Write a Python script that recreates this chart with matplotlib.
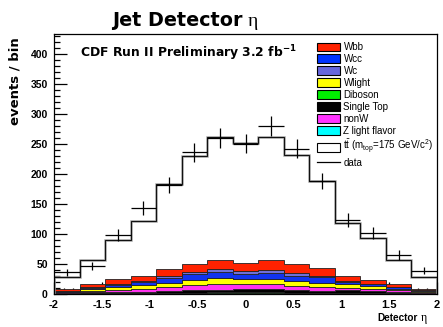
import numpy as np
import matplotlib
matplotlib.use("Agg")
import matplotlib.pyplot as plt
from matplotlib.patches import Patch
from matplotlib.lines import Line2D
from matplotlib.ticker import MultipleLocator

plt.rcParams['font.family'] = ['Liberation Sans', 'DejaVu Sans']
plt.rcParams['mathtext.fontset'] = 'custom'
plt.rcParams['mathtext.rm'] = 'Liberation Sans'
plt.rcParams['mathtext.bf'] = 'DejaVu Sans:bold'

# 15 bins in detector eta from -2 to 2
edges = np.linspace(-2, 2, 16)

# background components, events per bin (stacked bottom -> top)
zlf     = [0.2, 0.4, 0.5, 0.5, 0.7, 0.9, 1.0, 2.0, 1.0, 0.9, 0.7, 0.6, 0.5, 0.4, 0.2]
diboson = [0.3, 0.5, 0.7, 0.8, 1.0, 1.3, 2.0, 1.2, 2.0, 1.3, 1.0, 0.9, 0.7, 0.5, 0.3]
stop    = [1.0, 1.9, 2.1, 2.0, 2.7, 3.8, 4.2, 4.6, 4.8, 3.9, 3.3, 4.6, 3.2, 2.1, 1.0]
nonw    = [1.0, 2.7, 3.9, 5.0, 7.3, 8.4, 10.0, 8.3, 9.4, 6.7, 6.7, 4.5, 4.5, 3.0, 1.5]
wlight  = [1.5, 2.3, 4.5, 6.1, 7.3, 8.4, 9.5, 9.5, 8.4, 8.2, 7.2, 5.4, 3.9, 2.9, 2.0]
wcc     = [0.6, 2.4, 3.8, 5.6, 8.0, 10.0, 10.0, 8.3, 9.4, 9.0, 8.9, 3.6, 3.4, 2.1, 0.6]
wc      = [0.4, 0.8, 1.7, 1.7, 3.0, 3.9, 4.3, 4.4, 4.4, 4.4, 2.2, 1.5, 1.0, 0.7, 0.4]
wbb     = [3.0, 5.0, 7.2, 7.7, 12.0, 12.7, 15.0, 13.9, 16.6, 15.0, 13.3, 8.9, 6.7, 4.4, 2.9]
ttbar   = [21, 40, 65.5, 92.5, 142, 180.5, 205, 200, 205, 181.5, 144.5, 89, 69, 40, 20]

data = [36, 47, 98, 143, 182, 236, 260, 250, 280, 242, 188, 123, 101, 65, 39]

# stacking order and colours
stack = [
    (zlf, '#00e0e0'),
    (diboson, '#00cc00'),
    (stop, '#000000'),
    (nonw, '#ff33ee'),
    (wlight, '#ffff00'),
    (wcc, '#1133ee'),
    (wc, '#6f6fd9'),
    (wbb, '#ff2200'),
]

fig = plt.figure(figsize=(4.43, 3.27), dpi=100)
ax = fig.add_axes([54 / 443, 1 - 294 / 327, 383 / 443, 260 / 327])

# white ttbar on top of everything, drawn first so the stack covers its bottom
bottom = np.zeros(15)
for vals, _ in stack:
    bottom = bottom + np.array(vals)
total = bottom + np.array(ttbar)
ax.stairs(total, edges, baseline=0, fill=True, facecolor='white', edgecolor='none', zorder=1)

base = np.zeros(15)
for vals, col in stack:
    top = base + np.array(vals)
    ax.stairs(top, edges, baseline=base, fill=True, facecolor=col,
              edgecolor='#222222', linewidth=0.6, zorder=2)
    base = top

# total MC outline
ax.stairs(total, edges, color='#a8a8a8', linewidth=1.8, zorder=3)
ax.stairs(total, edges, color='#111111', linewidth=0.8, zorder=4)

# data with full-bin horizontal bars
centers = 0.5 * (edges[1:] + edges[:-1])
half = 0.5 * (edges[1] - edges[0])
ax.errorbar(centers, data, xerr=half, yerr=np.sqrt(data), fmt='none',
            ecolor='black', elinewidth=0.9, capsize=0, zorder=5)

ax.set_xlim(-2, 2)
ax.set_ylim(0, 433)
ax.xaxis.set_major_locator(MultipleLocator(0.5))
ax.xaxis.set_minor_locator(MultipleLocator(0.1))
ax.yaxis.set_major_locator(MultipleLocator(50))
ax.yaxis.set_minor_locator(MultipleLocator(10))
ax.tick_params(which='both', direction='in', top=False, right=False,
               width=0.9, color='black')
ax.tick_params(axis='x', labelsize=8)
ax.tick_params(axis='y', labelsize=7.5)
ax.tick_params(which='major', length=9, pad=4.5)
ax.tick_params(which='minor', length=4.5)
ax.set_xticks(np.arange(-2, 2.01, 0.5))
ax.set_xticklabels(['-2', '-1.5', '-1', '-0.5', '0', '0.5', '1', '1.5', '2'])
for lab in ax.get_xticklabels() + ax.get_yticklabels():
    lab.set_fontweight('bold')
for sp in ax.spines.values():
    sp.set_linewidth(0.9)
    sp.set_zorder(6)

ax.text(0.068, 0.912, r'CDF Run II Preliminary 3.2 fb$^{\mathbf{-1}}$',
        transform=ax.transAxes, fontsize=8.9, fontweight='bold',
        family='DejaVu Sans', va='baseline')

handles = [
    Patch(facecolor='#ff2200', edgecolor='black', linewidth=0.8),
    Patch(facecolor='#0033ff', edgecolor='black', linewidth=0.8),
    Patch(facecolor='#6666dd', edgecolor='black', linewidth=0.8),
    Patch(facecolor='#ffff00', edgecolor='black', linewidth=0.8),
    Patch(facecolor='#00ee00', edgecolor='black', linewidth=0.8),
    Patch(facecolor='#000000', edgecolor='black', linewidth=0.8),
    Patch(facecolor='#ff33ff', edgecolor='black', linewidth=0.8),
    Patch(facecolor='#00ffff', edgecolor='black', linewidth=0.8),
    Patch(facecolor='white', edgecolor='black', linewidth=0.8),
    Line2D([], [], color='black', linewidth=0.9),
]
labels = ['Wbb', 'Wcc', 'Wc', 'Wlight', 'Diboson', 'Single Top', 'nonW',
          'Z light flavor',
          r't$\mathrm{\bar{t}}$ (m$_{\mathrm{top}}$=175 GeV/c$^{2}$)', 'data']
ax.legend(handles, labels, loc='upper left', bbox_to_anchor=(0.687, 0.968),
          frameon=False, fontsize=7, handlelength=2.33, handleheight=1.03,
          handletextpad=0.38, labelspacing=0.2, borderpad=0, borderaxespad=0)

# title and axis labels with an upright serif eta
fig.text(243 / 443, 1 - 21 / 327, 'Jet Detector', fontsize=13.8,
         fontweight='bold', family='DejaVu Sans', ha='right', va='center')
fig.text(248 / 443, 1 - 21 / 327, '\u03b7', fontsize=14,
         family='Liberation Serif', ha='left', va='center')
fig.text(15 / 443, 1 - 37 / 327, 'events / bin', fontsize=9.5,
         fontweight='bold', family='DejaVu Sans', rotation=90,
         ha='center', va='top')
fig.text(418 / 443, 1 - 318 / 327, 'Detector', fontsize=7.2,
         fontweight='bold', ha='right', va='center')
fig.text(421 / 443, 1 - 318 / 327, '\u03b7', fontsize=8.5,
         family='Liberation Serif', ha='left', va='center')

fig.savefig('out.png', dpi=100)
